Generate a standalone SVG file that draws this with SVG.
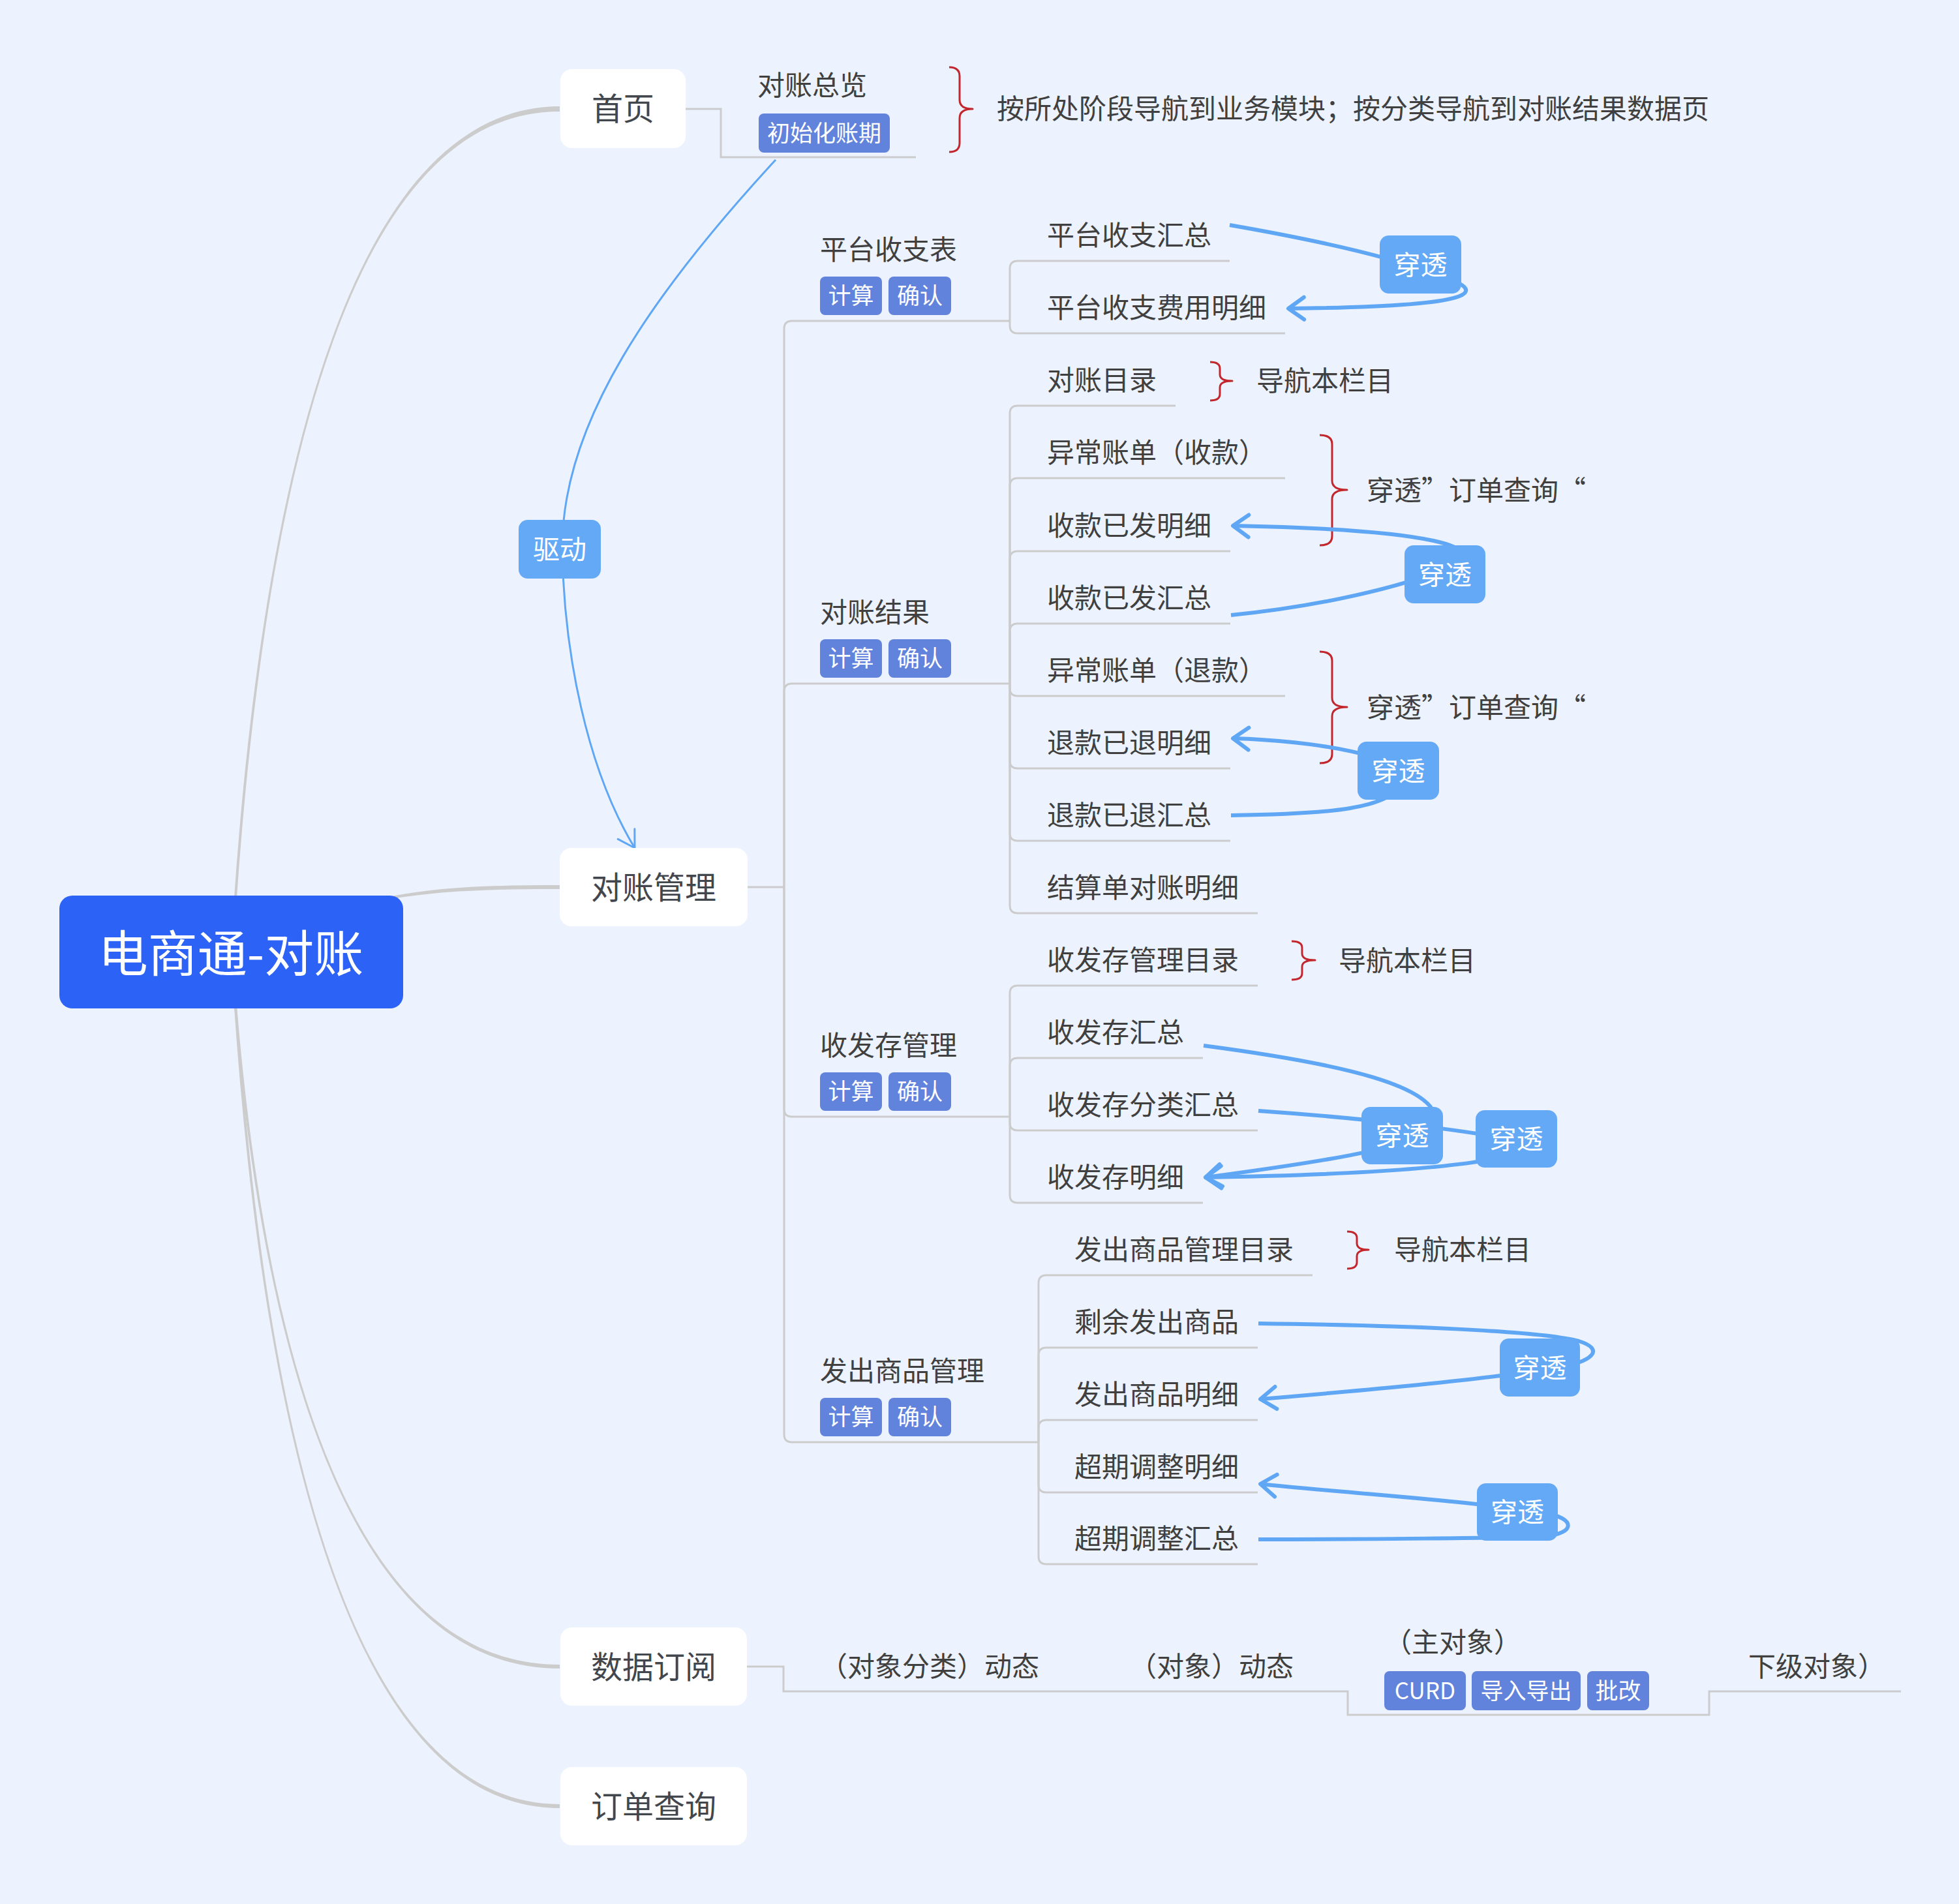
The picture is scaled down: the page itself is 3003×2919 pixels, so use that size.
<svg xmlns="http://www.w3.org/2000/svg" width="3003" height="2919" viewBox="0 0 3003 2919">
<defs>
<style>
text{font-family:"Noto Sans CJK SC","Noto Sans",sans-serif;dominant-baseline:central;transform:translateY(-3px)}
.t{font-size:42px;fill:#404040}
.l1r{fill:#ffffff}
.l1t{font-size:48px;fill:#42464d;text-anchor:middle}
.tagr{fill:#6283db}
.tagt{font-size:35px;fill:#ffffff;text-anchor:middle}
.lblr{fill:#63a9f6}
.lblt{font-size:41px;fill:#ffffff;text-anchor:middle}
.ln{fill:none;stroke:#cccccc;stroke-width:3}
.br{fill:none;stroke:#c1272d;stroke-width:3;stroke-linejoin:round}
.rel{fill:none;stroke:#5fa7f4;stroke-width:6;marker-end:url(#ah)}
.drv{fill:none;stroke:#5fa7f4;stroke-width:3;marker-end:url(#ahs)}
.rb{fill:#cccccc}
</style>
<marker id="ah" markerUnits="userSpaceOnUse" viewBox="-40 -30 50 60" markerWidth="50" markerHeight="60" refX="0" refY="0" orient="auto" overflow="visible">
<path d="M-24,-17 L0,0 L-24,17" fill="none" stroke="#5fa7f4" stroke-width="6" stroke-linecap="round" stroke-linejoin="round"/>
</marker>
<marker id="ahs" markerUnits="userSpaceOnUse" viewBox="-40 -30 50 60" markerWidth="50" markerHeight="60" refX="0" refY="0" orient="auto" overflow="visible">
<path d="M-25,-15 L0,0 L-25,15" fill="none" stroke="#5fa7f4" stroke-width="3" stroke-linecap="round" stroke-linejoin="round"/>
</marker>
</defs>
<rect x="0" y="0" width="3003" height="2919" fill="#edf3fe"/>

<g id="connectors">
<path class="rb" d="M358,1390 C398,800 520,164 858,163 L858,171 C520,170 402,800 362,1390 Z"/>
<path class="rb" d="M600,1374 C680,1359 760,1357 858,1357 L858,1363 C760,1363 680,1365 600,1378 Z"/>
<path class="rb" d="M358,1530 C398,2025 520,2558 858,2558 L858,2552 C520,2552 402,2025 362,1530 Z"/>
<path class="rb" d="M358,1530 C398,2127 520,2772 858,2772 L858,2766 C520,2766 402,2127 362,1530 Z"/>

<path class="ln" d="M1051,167 H1105 V241 H1404"/>

<path class="ln" d="M1145,1360 H1202"/>
<path class="ln" d="M1202,1360 V504 Q1202,492 1214,492 H1548"/>
<path class="ln" d="M1202,1360 V1060 Q1202,1048 1214,1048 H1548"/>
<path class="ln" d="M1202,1360 V1700 Q1202,1712 1214,1712 H1548"/>
<path class="ln" d="M1202,1360 V2199 Q1202,2211 1214,2211 H1592"/>

<path class="ln" d="M1548,492 V412 Q1548,400 1560,400 H1885"/>
<path class="ln" d="M1548,492 V499 Q1548,511 1560,511 H1970"/>

<path class="ln" d="M1548,1048 V634 Q1548,622 1560,622 H1802"/>
<path class="ln" d="M1548,1048 V745 Q1548,733 1560,733 H1970"/>
<path class="ln" d="M1548,1048 V857 Q1548,845 1560,845 H1886"/>
<path class="ln" d="M1548,1048 V968 Q1548,956 1560,956 H1886"/>
<path class="ln" d="M1548,1048 V1055 Q1548,1067 1560,1067 H1970"/>
<path class="ln" d="M1548,1048 V1166 Q1548,1178 1560,1178 H1886"/>
<path class="ln" d="M1548,1048 V1277 Q1548,1289 1560,1289 H1886"/>
<path class="ln" d="M1548,1048 V1388 Q1548,1400 1560,1400 H1928"/>

<path class="ln" d="M1548,1712 V1523 Q1548,1511 1560,1511 H1928"/>
<path class="ln" d="M1548,1712 V1634 Q1548,1622 1560,1622 H1844"/>
<path class="ln" d="M1548,1712 V1721 Q1548,1733 1560,1733 H1928"/>
<path class="ln" d="M1548,1712 V1832 Q1548,1844 1560,1844 H1844"/>

<path class="ln" d="M1592,2211 V1967 Q1592,1955 1604,1955 H2012"/>
<path class="ln" d="M1592,2211 V2078 Q1592,2066 1604,2066 H1928"/>
<path class="ln" d="M1592,2211 V2189 Q1592,2177 1604,2177 H1928"/>
<path class="ln" d="M1592,2211 V2276 Q1592,2288 1604,2288 H1928"/>
<path class="ln" d="M1592,2211 V2386 Q1592,2398 1604,2398 H1928"/>

<path class="ln" d="M1145,2555 H1201 V2593 H2066 V2629 H2620 V2593 H2914"/>

<path class="br" d="M1455,103 Q1471,103 1471,117 L1471,153 Q1471,167 1491,167 Q1471,167 1471,181 L1471,219 Q1471,233 1455,233"/>
<path class="br" d="M1855,555 Q1870,555 1870,565 L1870,574 Q1870,584 1889,584 Q1870,584 1870,594 L1870,604 Q1870,614 1855,614"/>
<path class="br" d="M2023,667 Q2042,667 2042,681 L2042,737 Q2042,751 2065,751 Q2042,751 2042,765 L2042,822 Q2042,836 2023,836"/>
<path class="br" d="M2023,999 Q2042,999 2042,1013 L2042,1070 Q2042,1084 2065,1084 Q2042,1084 2042,1098 L2042,1156 Q2042,1170 2023,1170"/>
<path class="br" d="M1980,1443 Q1996,1443 1996,1453 L1996,1462 Q1996,1472 2016,1472 Q1996,1472 1996,1482 L1996,1492 Q1996,1502 1980,1502"/>
<path class="br" d="M2065,1888 Q2080,1888 2080,1898 L2080,1906 Q2080,1916 2098,1916 Q2080,1916 2080,1926 L2080,1935 Q2080,1945 2065,1945"/>

<path class="drv" d="M1189,245 C1000,450 860,650 862,842 C864,1000 900,1180 973,1300"/>
<path class="rel" d="M1885,345 C2000,365 2120,390 2200,420 C2290,448 2270,470 1975,473"/>
<path class="rel" d="M1887,943 C2020,930 2150,900 2220,870 C2290,840 2200,812 1890,806"/>
<path class="rel" d="M1887,1250 C2040,1248 2130,1240 2150,1200 C2170,1160 2010,1135 1890,1132"/>
<path class="rel" d="M1845,1603 C2050,1630 2215,1665 2200,1725 C2190,1760 1960,1790 1848,1805"/>
<path class="rel" d="M1929,1703 C2100,1715 2250,1733 2320,1748 C2380,1770 2250,1798 1848,1805"/>
<path class="rel" d="M1929,2029 C2150,2032 2360,2040 2420,2056 C2460,2068 2445,2088 2380,2098 C2250,2118 2050,2135 1932,2145"/>
<path class="rel" d="M1929,2360 C2100,2360 2300,2358 2370,2355 C2415,2350 2415,2328 2370,2320 C2250,2300 2050,2288 1932,2275"/>
</g>

<g id="root">
<rect x="91" y="1373" width="527" height="173" rx="20" fill="#2c63f6"/>
<text x="354" y="1460" font-size="76" fill="#ffffff" text-anchor="middle">电商通-对账</text>
</g>

<g id="n-home">
<rect class="l1r" x="859" y="106" width="192" height="121" rx="18"/>
<text class="l1t" x="955" y="166">首页</text>
</g>
<g id="n-recon">
<rect class="l1r" x="858" y="1300" width="288" height="120" rx="18"/>
<text class="l1t" x="1002" y="1360">对账管理</text>
</g>
<g id="n-sub">
<rect class="l1r" x="859" y="2495" width="286" height="120" rx="18"/>
<text class="l1t" x="1002" y="2555">数据订阅</text>
</g>
<g id="n-order">
<rect class="l1r" x="859" y="2709" width="286" height="120" rx="18"/>
<text class="l1t" x="1002" y="2769">订单查询</text>
</g>

<g id="n-overview">
<text class="t" x="1161" y="130">对账总览</text>
<rect class="tagr" x="1163" y="174" width="201" height="60" rx="8"/>
<text class="tagt" x="1263.5" y="204">初始化账期</text>
</g>
<g id="note-home"><text class="t" x="1528" y="166">按所处阶段导航到业务模块；按分类导航到对账结果数据页</text></g>

<g id="n-platform">
<text class="t" x="1257" y="382">平台收支表</text>
<rect class="tagr" x="1257" y="424" width="95" height="59" rx="8"/>
<text class="tagt" x="1304.5" y="453.5">计算</text>
<rect class="tagr" x="1362" y="424" width="96" height="59" rx="8"/>
<text class="tagt" x="1410" y="453.5">确认</text>
</g>
<g id="n-result">
<text class="t" x="1257" y="938">对账结果</text>
<rect class="tagr" x="1257" y="980" width="95" height="59" rx="8"/>
<text class="tagt" x="1304.5" y="1009.5">计算</text>
<rect class="tagr" x="1362" y="980" width="96" height="59" rx="8"/>
<text class="tagt" x="1410" y="1009.5">确认</text>
</g>
<g id="n-inv">
<text class="t" x="1257" y="1602">收发存管理</text>
<rect class="tagr" x="1257" y="1644" width="95" height="59" rx="8"/>
<text class="tagt" x="1304.5" y="1673.5">计算</text>
<rect class="tagr" x="1362" y="1644" width="96" height="59" rx="8"/>
<text class="tagt" x="1410" y="1673.5">确认</text>
</g>
<g id="n-ship">
<text class="t" x="1257" y="2101">发出商品管理</text>
<rect class="tagr" x="1257" y="2143" width="95" height="59" rx="8"/>
<text class="tagt" x="1304.5" y="2172.5">计算</text>
<rect class="tagr" x="1362" y="2143" width="96" height="59" rx="8"/>
<text class="tagt" x="1410" y="2172.5">确认</text>
</g>

<g id="leaves">
<text class="t" x="1605" y="360">平台收支汇总</text>
<text class="t" x="1605" y="471">平台收支费用明细</text>
<text class="t" x="1605" y="582">对账目录</text>
<text class="t" x="1605" y="693">异常账单（收款）</text>
<text class="t" x="1605" y="805">收款已发明细</text>
<text class="t" x="1605" y="916">收款已发汇总</text>
<text class="t" x="1605" y="1027">异常账单（退款）</text>
<text class="t" x="1605" y="1138">退款已退明细</text>
<text class="t" x="1605" y="1249">退款已退汇总</text>
<text class="t" x="1605" y="1360">结算单对账明细</text>
<text class="t" x="1605" y="1471">收发存管理目录</text>
<text class="t" x="1605" y="1582">收发存汇总</text>
<text class="t" x="1605" y="1693">收发存分类汇总</text>
<text class="t" x="1605" y="1804">收发存明细</text>
<text class="t" x="1647" y="1915">发出商品管理目录</text>
<text class="t" x="1647" y="2026">剩余发出商品</text>
<text class="t" x="1647" y="2137">发出商品明细</text>
<text class="t" x="1647" y="2248">超期调整明细</text>
<text class="t" x="1647" y="2358">超期调整汇总</text>
</g>

<g id="notes">
<text class="t" x="1926" y="583">导航本栏目</text>
<text class="t" x="2095" y="751">穿透”订单查询“</text>
<text class="t" x="2095" y="1084">穿透”订单查询“</text>
<text class="t" x="2052" y="1472">导航本栏目</text>
<text class="t" x="2137" y="1915">导航本栏目</text>
</g>

<g id="n-subchain">
<text class="t" x="1257" y="2554">（对象分类）动态</text>
<text class="t" x="1731" y="2554">（对象）动态</text>
<text class="t" x="2122" y="2517">（主对象）</text>
<rect class="tagr" x="2122" y="2562" width="125" height="60" rx="8"/>
<text class="tagt" x="2184.5" y="2592">CURD</text>
<rect class="tagr" x="2256" y="2562" width="167" height="60" rx="8"/>
<text class="tagt" x="2339.5" y="2592">导入导出</text>
<rect class="tagr" x="2433" y="2562" width="95" height="60" rx="8"/>
<text class="tagt" x="2480.5" y="2592">批改</text>
<text class="t" x="2680" y="2554">下级对象）</text>
</g>

<g id="labels">
<g id="lbl-drive"><rect class="lblr" x="795" y="797" width="126" height="90" rx="14"/><text class="lblt" x="858" y="842">驱动</text></g>
<g id="lbl-1"><rect class="lblr" x="2115" y="361" width="125" height="89" rx="14"/><text class="lblt" x="2177.5" y="405.5">穿透</text></g>
<g id="lbl-2"><rect class="lblr" x="2153" y="836" width="124" height="89" rx="14"/><text class="lblt" x="2215" y="880.5">穿透</text></g>
<g id="lbl-3"><rect class="lblr" x="2081" y="1137" width="125" height="89" rx="14"/><text class="lblt" x="2143.5" y="1181.5">穿透</text></g>
<g id="lbl-4"><rect class="lblr" x="2087" y="1697" width="125" height="88" rx="14"/><text class="lblt" x="2149.5" y="1741">穿透</text></g>
<g id="lbl-5"><rect class="lblr" x="2262" y="1702" width="125" height="88" rx="14"/><text class="lblt" x="2324.5" y="1746">穿透</text></g>
<g id="lbl-6"><rect class="lblr" x="2299" y="2052" width="123" height="89" rx="14"/><text class="lblt" x="2360.5" y="2096.5">穿透</text></g>
<g id="lbl-7"><rect class="lblr" x="2264" y="2274" width="124" height="88" rx="14"/><text class="lblt" x="2326" y="2318">穿透</text></g>
</g>
</svg>
